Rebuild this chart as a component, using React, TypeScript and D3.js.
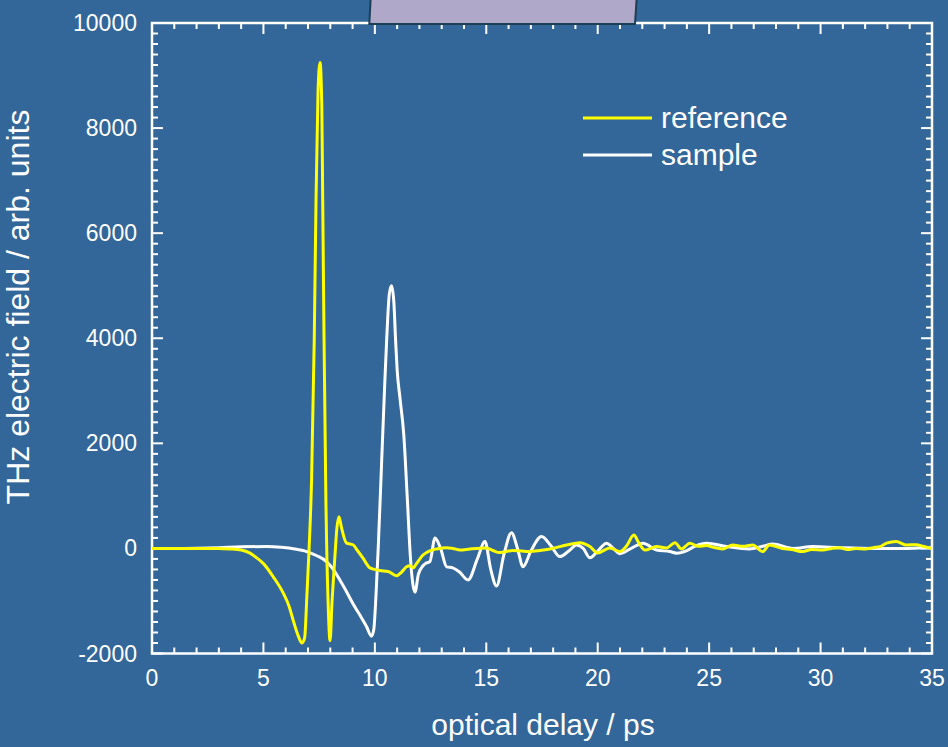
import React from "react";
import * as d3 from "d3";

const xTicks = [0, 5, 10, 15, 20, 25, 30, 35];
const yTicks = [-2000, 0, 2000, 4000, 6000, 8000, 10000];

const refX = [0, 1, 2, 3, 3.5, 4.0, 4.4, 4.7, 5.0, 5.44, 5.89, 6.15, 6.33, 6.55, 6.73, 6.85, 6.95, 7.05, 7.16, 7.28, 7.36, 7.45, 7.54, 7.62, 7.66, 7.72, 7.8, 7.9, 7.99, 8.08, 8.2, 8.3, 8.39, 8.5, 8.73, 9.02, 9.2, 9.46, 9.78, 10.23, 10.6, 10.97, 11.2, 11.42, 11.58, 11.72, 11.85, 12.16, 12.5, 12.77, 13.22, 13.5, 13.82, 14.27, 15.0, 15.3, 15.6, 16.2, 16.96, 17.4, 17.86, 18.6, 19.2, 19.65, 20.0, 20.55, 21.0, 21.3, 21.62, 21.85, 22.12, 22.64, 23.09, 23.47, 23.76, 24.14, 24.5, 24.88, 25.2, 25.6, 26.06, 26.5, 26.96, 27.4, 27.7, 28.3, 28.7, 29.2, 29.6, 30.1, 30.5, 30.87, 31.2, 31.6, 32.0, 32.35, 32.7, 32.96, 33.4, 33.86, 34.3, 34.6, 35];
const refY = [0, 0, 0, 0, -10, -30, -90, -180, -290, -540, -850, -1100, -1360, -1650, -1800, -1700, -900, 0, 1300, 3970, 6640, 8700, 9250, 8400, 6640, 3970, 1000, -1000, -1755, -1000, -200, 400, 605, 400, 100, 70, -30, -180, -370, -420, -440, -520, -450, -350, -330, -370, -300, -125, -40, -10, 15, 0, -30, -10, 10, -40, -80, -40, -60, -40, -10, 65, 110, 35, -85, 10, -60, 50, 255, 100, -30, 35, 10, 110, -10, 100, 40, 55, 20, -10, 65, 40, 65, -60, 65, 0, -20, -60, -20, -30, 0, 15, -20, 0, -10, 15, 40, 100, 130, 65, 70, 40, 0];

const sampleX = [0, 1, 2, 3, 4, 5.15, 5.8, 6.4, 6.94, 7.4, 7.83, 8.1, 8.43, 8.7, 9.0, 9.3, 9.63, 9.85, 9.95, 10.05, 10.15, 10.3, 10.45, 10.53, 10.65, 10.75, 10.85, 10.93, 11.0, 11.13, 11.3, 11.45, 11.6, 11.8, 11.95, 12.16, 12.3, 12.47, 12.7, 12.95, 13.22, 13.5, 13.8, 14.18, 14.6, 14.94, 15.2, 15.46, 15.8, 16.13, 16.4, 16.65, 17.0, 17.48, 17.9, 18.3, 18.7, 19.05, 19.35, 19.65, 20.0, 20.4, 20.7, 20.99, 21.5, 22.03, 22.64, 23.24, 23.54, 24.0, 24.4, 24.88, 25.78, 26.8, 27.4, 27.85, 28.76, 29.66, 30.87, 32.35, 33.86, 34.9, 35];
const sampleY = [0, 0, 5, 15, 30, 35, 20, -10, -60, -140, -250, -380, -600, -800, -1040, -1250, -1490, -1670, -1550, -900, 0, 1600, 3200, 3970, 4850, 5000, 4700, 3970, 3400, 2850, 2150, 1000, -200, -830, -500, -330, -280, -250, 200, 0, -350, -370, -450, -600, -200, 130, -400, -715, -100, 300, 0, -350, -50, 225, 50, -155, -50, 65, 0, -180, -50, 100, 0, -100, 0, 100, -30, -60, -90, -40, 50, 100, 35, -10, 40, 85, 0, 35, 15, 0, 0, 15, 15];

const seriesNames = ["reference", "sample"];
const seriesColors = ["#ffff00", "#ffffff"];

const W = 948;
const H = 747;
const BG = "#336699";
const FONT = "'Liberation Sans', Arial, sans-serif";

export default function App() {
  const x = d3.scaleLinear().domain([0, 35]).range([152, 932]);
  const y = d3.scaleLinear().domain([-2000, 10000]).range([653.5, 23]);
  const line = d3
    .line<[number, number]>()
    .x((d) => x(d[0]))
    .y((d) => y(d[1]))
    .curve(d3.curveMonotoneX);
  const refPts = refX.map((v, i) => [v, refY[i]] as [number, number]);
  const samPts = sampleX.map((v, i) => [v, sampleY[i]] as [number, number]);

  const xMinor = d3.range(0, 36, 1);
  const yMinor = d3.range(-2000, 10001, 200);
  const [x0, x1] = x.range();
  const [yb, yt] = y.range();

  return (
    <div style={{ position: "absolute", left: 0, top: 0 }}>
      <svg width={W} height={H} style={{ display: "block", background: BG }} fontFamily={FONT}>
        <rect x={0} y={0} width={W} height={H} fill={BG} />
        <defs>
          <clipPath id="plotclip">
            <rect x={x0} y={yt} width={x1 - x0} height={yb - yt} />
          </clipPath>
        </defs>
        {/* ticks */}
        <g stroke="#fff" strokeWidth={2}>
          {xMinor.map((t) => {
            const len = t % 5 === 0 ? 11 : 6;
            return (
              <g key={"xt" + t}>
                <line x1={x(t)} x2={x(t)} y1={yb} y2={yb - len} />
                <line x1={x(t)} x2={x(t)} y1={yt} y2={yt + len} />
              </g>
            );
          })}
          {yMinor.map((t) => {
            const len = t % 2000 === 0 ? 11 : 6;
            return (
              <g key={"yt" + t}>
                <line x1={x0} x2={x0 + len} y1={y(t)} y2={y(t)} />
                <line x1={x1} x2={x1 - len} y1={y(t)} y2={y(t)} />
              </g>
            );
          })}
        </g>
        <rect x={x0} y={yt} width={x1 - x0} height={yb - yt} fill="none" stroke="#fff" strokeWidth={2.5} />
        {/* curves */}
        <g clipPath="url(#plotclip)" fill="none" strokeWidth={3} strokeLinejoin="round">
          <path d={line(samPts) || ""} stroke={seriesColors[1]} />
          <path d={line(refPts) || ""} stroke={seriesColors[0]} />
        </g>
        {/* tick labels */}
        <g fill="#fff" fontSize={23}>
          {xTicks.map((t) => (
            <text key={"xl" + t} x={x(t)} y={686} textAnchor="middle">
              {t}
            </text>
          ))}
          {yTicks.map((t) => (
            <text key={"yl" + t} x={137} y={y(t) + 8} textAnchor="end">
              {t}
            </text>
          ))}
        </g>
        <text x={543} y={735} fill="#fff" fontSize={30} textAnchor="middle">
          optical delay / ps
        </text>
        <text transform="translate(29,307) rotate(-90)" fill="#fff" fontSize={32} textAnchor="middle">
          THz electric field / arb. units
        </text>
        {/* legend */}
        {seriesNames.map((n, i) => (
          <g key={n}>
            <line x1={583} x2={652} y1={118 + i * 37} y2={118 + i * 37} stroke={seriesColors[i]} strokeWidth={3} />
            <text x={661} y={128 + i * 37} fill="#fff" fontSize={30}>
              {n}
            </text>
          </g>
        ))}
        {/* top box */}
        <polygon points="370.7,-2 636.7,-2 635,24 369.3,24" fill="#b0a8c8" stroke="#1d3f55" strokeWidth={2} />
      </svg>
    </div>
  );
}
